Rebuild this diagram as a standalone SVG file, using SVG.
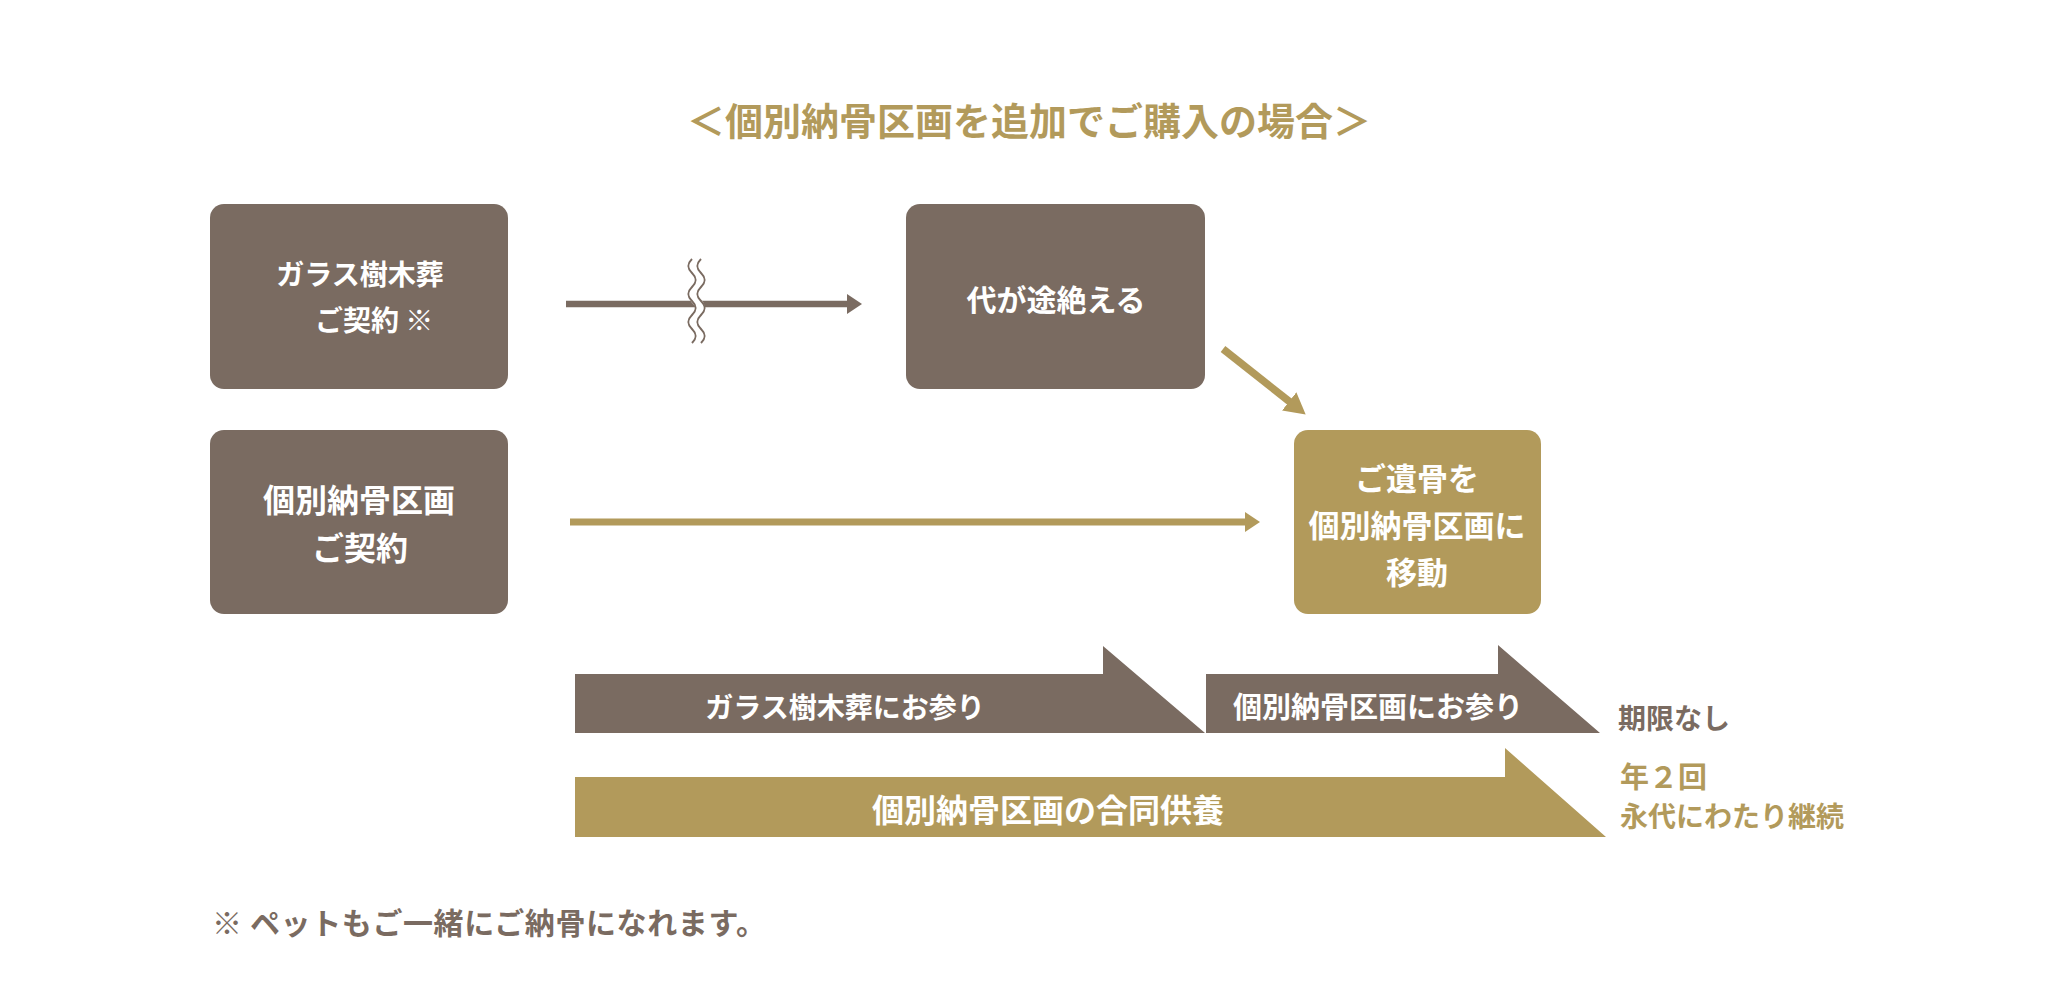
<svg xmlns="http://www.w3.org/2000/svg" width="2060" height="988" viewBox="0 0 2060 988">
  <style>
    text { font-family: "Noto Sans CJK JP", "Noto Sans CJK SC", sans-serif; font-weight: 700; dominant-baseline: central; }
    .w { fill: #ffffff; }
    .g { fill: #7a6b61; }
    .au { fill: #b29a5b; }
    .mid { text-anchor: middle; }
    .boxg { fill: #7a6b61; }
    .boxau { fill: #b29a5b; }
  </style>
  <defs>
    <marker id="hg" viewBox="0 0 15 20" refX="1" refY="10" markerWidth="15" markerHeight="20" markerUnits="userSpaceOnUse" orient="auto">
      <path d="M0,0 L15,10 L0,20 z" fill="#7a6b61"/>
    </marker>
    <marker id="hau" viewBox="0 0 15 20" refX="1" refY="10" markerWidth="15" markerHeight="20" markerUnits="userSpaceOnUse" orient="auto">
      <path d="M0,0 L15,10 L0,20 z" fill="#b29a5b"/>
    </marker>
    <marker id="hau2" viewBox="0 0 21 23" refX="1" refY="11.5" markerWidth="21" markerHeight="23" markerUnits="userSpaceOnUse" orient="auto">
      <path d="M0,0 L21,11.5 L0,23 z" fill="#b29a5b"/>
    </marker>
  </defs>

  <rect width="2060" height="988" fill="#ffffff"/>

  <g id="title">
    <text class="au mid" x="1029" y="118" font-size="38">＜個別納骨区画を追加でご購入の場合＞</text>
  </g>

  <g id="node-glass">
    <rect class="boxg" x="210" y="204" width="298" height="185" rx="14"/>
    <text class="w mid" x="360" y="273" font-size="28">ガラス樹木葬</text>
    <text class="w" x="315" y="319" font-size="28">ご契約 ※</text>
  </g>

  <g id="node-end">
    <rect class="boxg" x="906" y="204" width="299" height="185" rx="14"/>
    <text class="w mid" x="1056" y="298" font-size="30">代が途絶える</text>
  </g>

  <g id="node-kobetsu">
    <rect class="boxg" x="210" y="430" width="298" height="184" rx="14"/>
    <text class="w mid" x="359" y="498" font-size="32">個別納骨区画</text>
    <text class="w mid" x="360" y="546" font-size="32">ご契約</text>
  </g>

  <g id="node-move">
    <rect class="boxau" x="1294" y="430" width="247" height="184" rx="14"/>
    <text class="w mid" x="1417" y="476" font-size="31">ご遺骨を</text>
    <text class="w mid" x="1417" y="523" font-size="31">個別納骨区画に</text>
    <text class="w mid" x="1417" y="570" font-size="31">移動</text>
  </g>

  <g id="connectors">
    <line x1="566" y1="304" x2="848" y2="304" stroke="#7a6b61" stroke-width="6.5" marker-end="url(#hg)"/>
    <g id="break-mark" fill="none">
      <path d="M696.5,259 c-5,5 -5,9 0,14 s5,9 0,14 s-5,9 0,14 s5,9 0,14 s-5,9 0,14 s5,9 0,14" stroke="#ffffff" stroke-width="9"/>
      <path d="M692,259 c-5,5 -5,9 0,14 s5,9 0,14 s-5,9 0,14 s5,9 0,14 s-5,9 0,14 s5,9 0,14" stroke="#7a6b61" stroke-width="2"/>
      <path d="M701,259 c-5,5 -5,9 0,14 s5,9 0,14 s-5,9 0,14 s5,9 0,14 s-5,9 0,14 s5,9 0,14" stroke="#7a6b61" stroke-width="2"/>
    </g>
    <line x1="1223" y1="349" x2="1290" y2="402" stroke="#b29a5b" stroke-width="7.5" marker-end="url(#hau2)"/>
    <line x1="570" y1="522" x2="1246" y2="522" stroke="#b29a5b" stroke-width="7" marker-end="url(#hau)"/>
  </g>

  <g id="band-glass">
    <polygon class="boxg" points="575,674 1103,674 1103,646 1205,733 575,733"/>
    <text class="w mid" x="845" y="706" font-size="28">ガラス樹木葬にお参り</text>
  </g>

  <g id="band-kobetsu">
    <polygon class="boxg" points="1206,674 1498,674 1498,645 1600,733 1206,733"/>
    <text class="w mid" x="1378" y="705" font-size="29">個別納骨区画にお参り</text>
  </g>

  <g id="band-kuyo">
    <polygon class="boxau" points="575,777 1505,777 1505,748 1606,837 575,837"/>
    <text class="w mid" x="1048" y="808" font-size="32">個別納骨区画の合同供養</text>
  </g>

  <g id="label-nolimit">
    <text class="g" x="1618" y="717" font-size="28">期限なし</text>
  </g>

  <g id="label-twice">
    <text class="au" x="1620" y="775" font-size="29">年２回</text>
    <text class="au" x="1620" y="815" font-size="28">永代にわたり継続</text>
  </g>

  <g id="footnote">
    <text class="g" x="212" y="921" font-size="30" textLength="554" lengthAdjust="spacing">※ ペットもご一緒にご納骨になれます。</text>
  </g>
</svg>
